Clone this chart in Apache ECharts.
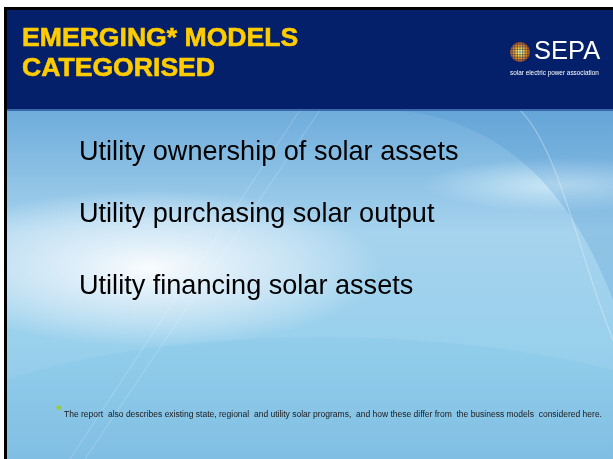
<!DOCTYPE html>
<html>
<head>
<meta charset="utf-8">
<script src="https://cdn.jsdelivr.net/npm/echarts@6/dist/echarts.min.js"></script>
<style>
  html, body { margin: 0; padding: 0; background: #fff; }
  #main { width: 613px; height: 459px; }
</style>
</head>
<body>
<div id="main"></div>
<script>
// slide content
var titleLines = ['EMERGING* MODELS', 'CATEGORISED'];
var modelItems = [
  'Utility ownership of solar assets',
  'Utility purchasing solar output',
  'Utility financing solar assets'
];
var footnote = 'The report  also describes existing state, regional  and utility solar programs,  and how these differ from  the business models  considered here.';
var logoName = 'SEPA';
var logoTag = 'solar electric power association';

var myChart = echarts.init(document.getElementById('main'));

var itemTop = [153, 215, 287];   // cap centres of the three lines
var titleTop = [38.5, 68.5];

// sample a cubic bezier into polygon points (background swooshes only)
function bez(p0, p1, p2, p3, n) {
  var pts = [];
  for (var i = 0; i <= n; i++) {
    var t = i / n, u = 1 - t;
    pts.push([
      u * u * u * p0[0] + 3 * u * u * t * p1[0] + 3 * u * t * t * p2[0] + t * t * t * p3[0],
      u * u * u * p0[1] + 3 * u * u * t * p1[1] + 3 * u * t * t * p2[1] + t * t * t * p3[1]
    ]);
  }
  return pts;
}

var elements = [];

// body background
elements.push({
  type: 'rect', silent: true,
  shape: { x: 7, y: 110, width: 606, height: 349 },
  style: {
    fill: new echarts.graphic.LinearGradient(0, 0, 0, 1, [
      { offset: 0, color: '#6eacdb' },
      { offset: 0.35, color: '#a6d3ee' },
      { offset: 0.7, color: '#98d0ec' },
      { offset: 1, color: '#84bde2' }
    ])
  }
});
// white glow on the left
elements.push({
  type: 'circle', silent: true,
  x: 150, y: 268, scaleX: 2.1, scaleY: 0.72,
  shape: { cx: 0, cy: 0, r: 110 },
  style: {
    fill: new echarts.graphic.RadialGradient(0.5, 0.5, 0.5, [
      { offset: 0, color: 'rgba(255,255,255,0.95)' },
      { offset: 0.5, color: 'rgba(240,246,252,0.6)' },
      { offset: 1, color: 'rgba(255,255,255,0)' }
    ])
  }
});
// light streak at the right
elements.push({
  type: 'circle', silent: true,
  x: 565, y: 185, scaleX: 1.6, scaleY: 0.3,
  shape: { cx: 0, cy: 0, r: 90 },
  style: {
    fill: new echarts.graphic.RadialGradient(0.5, 0.5, 0.5, [
      { offset: 0, color: 'rgba(225,245,252,0.75)' },
      { offset: 1, color: 'rgba(225,245,252,0)' }
    ])
  }
});
// big swoosh shapes
elements.push({
  type: 'polygon', silent: true,
  shape: { points: bez([380, 110], [470, 110], [560, 160], [613, 300], 30).concat([[613, 110]]) },
  style: { fill: 'rgba(70,140,205,0.22)' }
});
elements.push({
  type: 'polygon', silent: true,
  shape: { points: bez([7, 380], [150, 330], [420, 320], [613, 370], 30).concat([[613, 459], [7, 459]]) },
  style: { fill: 'rgba(120,195,230,0.22)' }
});
elements.push({
  type: 'bezierCurve', silent: true,
  shape: { x1: 520, y1: 110, cpx1: 560, cpy1: 150, cpx2: 580, cpy2: 260, x2: 613, y2: 340 },
  style: { fill: null, stroke: 'rgba(255,255,255,0.3)', lineWidth: 1.2 }
});
[[70, 300], [85, 320]].forEach(function (l) {
  elements.push({
    type: 'line', silent: true,
    shape: { x1: l[0], y1: 459, x2: l[1], y2: 110 },
    style: { stroke: 'rgba(255,255,255,0.22)', lineWidth: 1 }
  });
});

// header band
elements.push({
  type: 'rect', silent: true,
  shape: { x: 7, y: 10, width: 606, height: 100 },
  style: { fill: '#04206a' }
});
elements.push({
  type: 'rect', silent: true,
  shape: { x: 7, y: 109, width: 606, height: 2 },
  style: { fill: '#3b68ad' }
});
// black frame (left + top)
elements.push({
  type: 'rect', silent: true,
  shape: { x: 4, y: 7, width: 609, height: 3 },
  style: { fill: '#000' }
});
elements.push({
  type: 'rect', silent: true,
  shape: { x: 4, y: 7, width: 3, height: 452 },
  style: { fill: '#000' }
});

// title
titleLines.forEach(function (t, i) {
  elements.push({
    type: 'text', silent: true,
    x: 22, y: titleTop[i],
    style: {
      text: t, fill: '#ffcc00',
      font: 'bold 26.6px "Liberation Sans", Arial, sans-serif',
      align: 'left', verticalAlign: 'middle',
      stroke: '#ffcc00', lineWidth: 0.6
    }
  });
});

// logo globe
elements.push({
  type: 'circle', silent: true,
  shape: { cx: 520, cy: 52, r: 10 },
  style: {
    fill: new echarts.graphic.RadialGradient(0.5, 0.5, 0.5, [
      { offset: 0, color: '#ffffff' },
      { offset: 0.25, color: '#ffee55' },
      { offset: 0.6, color: '#f5a623' },
      { offset: 1, color: '#b8541a' }
    ])
  }
});
for (var g = -7.8; g <= 8; g += 2.6) {
  elements.push({
    type: 'line', silent: true,
    shape: { x1: 520 + g, y1: 41, x2: 520 + g, y2: 63 },
    style: { stroke: 'rgba(4,32,106,0.55)', lineWidth: 0.8 }
  });
  elements.push({
    type: 'line', silent: true,
    shape: { x1: 509, y1: 52 + g, x2: 531, y2: 52 + g },
    style: { stroke: 'rgba(4,32,106,0.55)', lineWidth: 0.8 }
  });
}
elements.push({
  type: 'text', silent: true,
  x: 534, y: 52,
  style: {
    text: logoName, fill: '#ffffff',
    font: '25.5px "Liberation Sans", Arial, sans-serif',
    align: 'left', verticalAlign: 'middle'
  }
});
elements.push({
  type: 'text', silent: true,
  x: 510, y: 73,
  style: {
    text: logoTag, fill: '#ffffff',
    font: '6.4px "Liberation Sans", Arial, sans-serif',
    align: 'left', verticalAlign: 'middle'
  }
});

// the three models
modelItems.forEach(function (t, i) {
  elements.push({
    type: 'text', silent: true,
    x: 79, y: itemTop[i],
    style: {
      text: t, fill: '#000000',
      font: '27.1px "Liberation Sans", Arial, sans-serif',
      align: 'left', verticalAlign: 'middle'
    }
  });
});

// footnote
elements.push({
  type: 'text', silent: true,
  x: 56, y: 411,
  style: {
    text: '*', fill: '#99cc33',
    font: 'bold 15px "Liberation Sans", Arial, sans-serif',
    align: 'left', verticalAlign: 'middle'
  }
});
elements.push({
  type: 'text', silent: true,
  x: 64, y: 415,
  style: {
    text: footnote, fill: '#1a1a1a',
    font: '8.5px "Liberation Sans", Arial, sans-serif',
    align: 'left', verticalAlign: 'middle'
  }
});

myChart.setOption({
  animation: false,
  graphic: { elements: elements }
});
</script>
</body>
</html>
